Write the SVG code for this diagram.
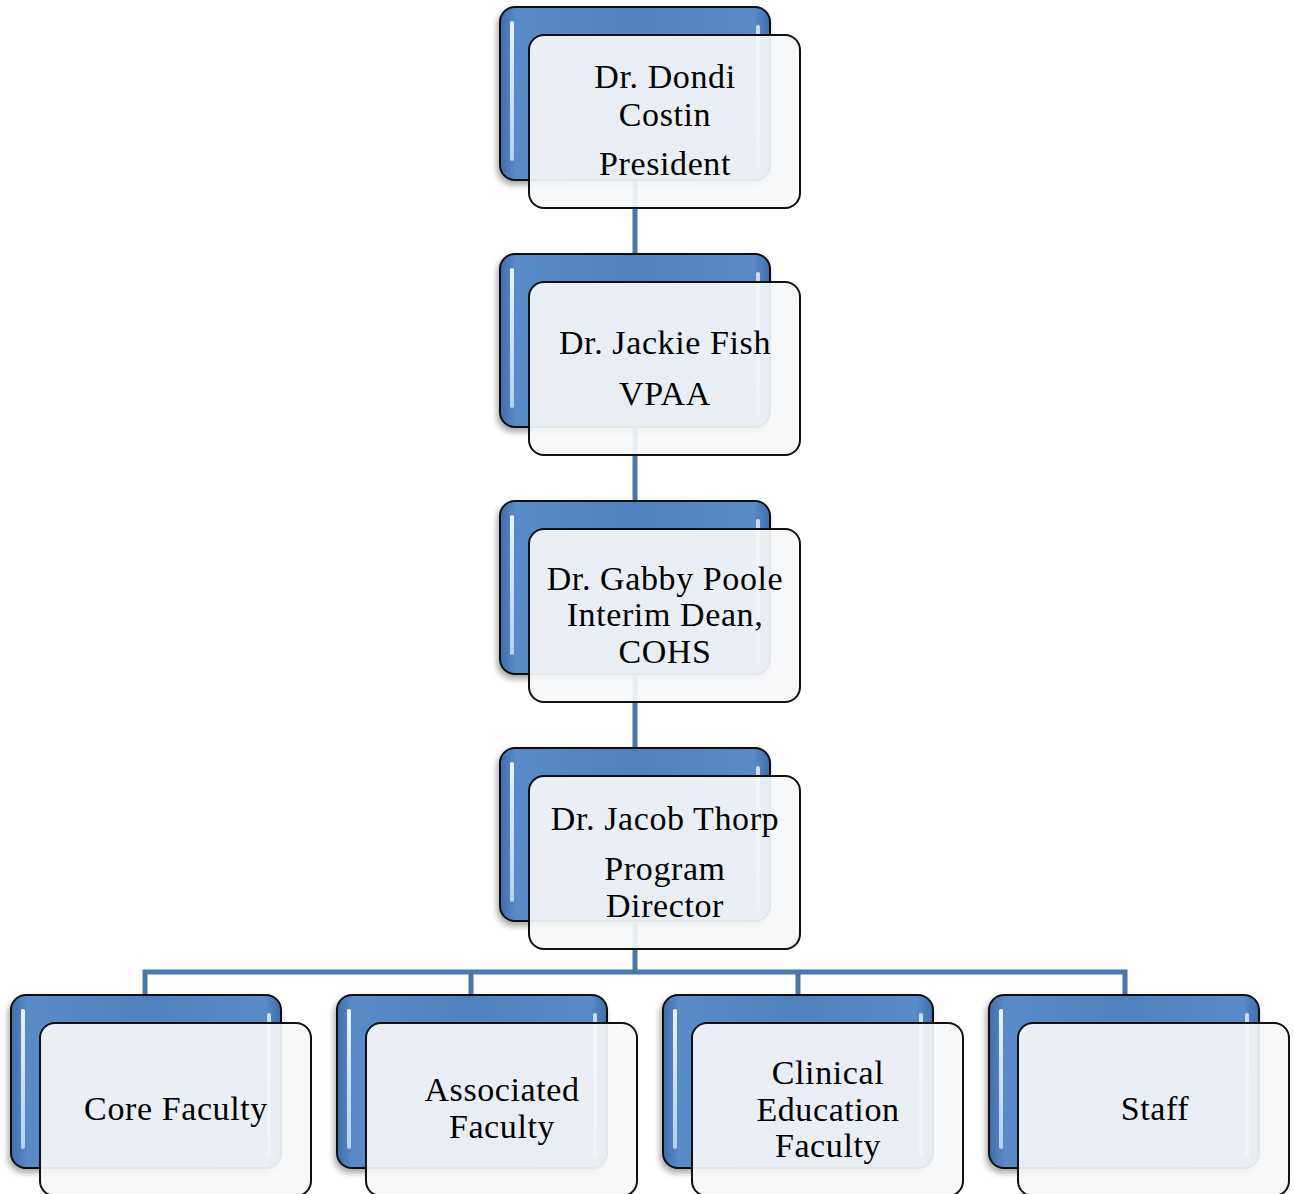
<svg xmlns="http://www.w3.org/2000/svg" width="1294" height="1194" viewBox="0 0 1294 1194">
<defs>
<linearGradient id="blue" x1="0" y1="0" x2="1" y2="0">
<stop offset="0" stop-color="#3E6DAA"/>
<stop offset="0.06" stop-color="#5A8BC8"/>
<stop offset="0.5" stop-color="#4F81BD"/>
<stop offset="0.94" stop-color="#5A8BC8"/>
<stop offset="1" stop-color="#3E6DAA"/>
</linearGradient>
<linearGradient id="hl" x1="0" y1="0" x2="0" y2="1">
<stop offset="0" stop-color="#FFFFFF" stop-opacity="0.9"/>
<stop offset="1" stop-color="#CFE3FA" stop-opacity="0.8"/>
</linearGradient>
<filter id="sh" x="-10%" y="-10%" width="125%" height="125%">
<feGaussianBlur in="SourceAlpha" stdDeviation="3"/>
<feOffset dx="-2" dy="4"/>
<feComponentTransfer><feFuncA type="linear" slope="0.35"/></feComponentTransfer>
<feMerge><feMergeNode/><feMergeNode in="SourceGraphic"/></feMerge>
</filter>
<g id="node">
<rect x="0" y="0" width="270" height="173" rx="15" fill="url(#blue)" stroke="#111" stroke-width="2" filter="url(#sh)"/>
<rect x="10" y="14" width="4" height="140" rx="2" fill="url(#hl)"/>
<rect x="256" y="18" width="4" height="145" rx="2" fill="url(#hl)" opacity="0.8"/>
<rect x="29" y="28" width="271" height="173" rx="15" fill="#F6F7FA" fill-opacity="0.92" stroke="#111" stroke-width="2"/>
</g>
</defs>
<style>
.t{font-family:"Liberation Serif","Times New Roman",serif;font-size:34px;letter-spacing:0.6px;fill:#000;text-anchor:middle}
.c{fill:none;stroke:#4A76AE;stroke-width:5}
</style>
<rect width="1294" height="1194" fill="#fff"/>
<g id="connectors">
<line class="c" x1="635" y1="180" x2="635" y2="254"/>
<line class="c" x1="635" y1="427" x2="635" y2="501"/>
<line class="c" x1="635" y1="674" x2="635" y2="748"/>
<line class="c" x1="635" y1="921" x2="635" y2="972"/>
<polyline class="c" points="145,995 145,972 1125,972 1125,995"/>
<line class="c" x1="471" y1="972" x2="471" y2="995"/>
<line class="c" x1="798" y1="972" x2="798" y2="995"/>
</g>
<g id="n1">
<use href="#node" x="500" y="7"/>
<text class="t" x="665" y="88">Dr. Dondi</text>
<text class="t" x="665" y="126">Costin</text>
<text class="t" x="665" y="175">President</text>
</g>
<g id="n2">
<use href="#node" x="500" y="254"/>
<text class="t" x="665" y="354">Dr. Jackie Fish</text>
<text class="t" x="665" y="405">VPAA</text>
</g>
<g id="n3">
<use href="#node" x="500" y="501"/>
<text class="t" x="665" y="590">Dr. Gabby Poole</text>
<text class="t" x="665" y="626">Interim Dean,</text>
<text class="t" x="665" y="663">COHS</text>
</g>
<g id="n4">
<use href="#node" x="500" y="748"/>
<text class="t" x="665" y="830">Dr. Jacob Thorp</text>
<text class="t" x="665" y="880">Program</text>
<text class="t" x="665" y="917">Director</text>
</g>
<g id="n5">
<use href="#node" x="11" y="995"/>
<text class="t" x="176" y="1120">Core Faculty</text>
</g>
<g id="n6">
<use href="#node" x="337" y="995"/>
<text class="t" x="502" y="1101">Associated</text>
<text class="t" x="502" y="1138">Faculty</text>
</g>
<g id="n7">
<use href="#node" x="663" y="995"/>
<text class="t" x="828" y="1084">Clinical</text>
<text class="t" x="828" y="1121">Education</text>
<text class="t" x="828" y="1157">Faculty</text>
</g>
<g id="n8">
<use href="#node" x="989" y="995"/>
<text class="t" x="1155" y="1120">Staff</text>
</g>
</svg>
